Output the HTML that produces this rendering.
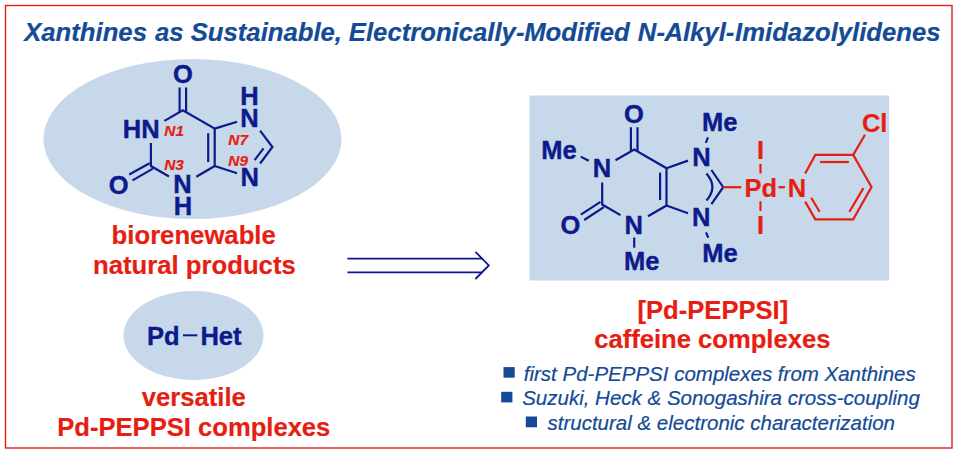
<!DOCTYPE html>
<html><head><meta charset="utf-8">
<style>
html,body{margin:0;padding:0;background:#fff;}
body{width:958px;height:456px;overflow:hidden;}
svg{display:block;font-family:"Liberation Sans",sans-serif;}
text{stroke-width:0.2px;}
.rd text,text.rd{stroke:#e61e12;}
.nv text,text.nv{stroke:#0d1a8c;stroke-width:0.4px;}
.nv{fill:#0d1a8c;font-weight:bold;font-size:25.5px;}
.rd{fill:#e61e12;}
.bl{stroke:#0d1a8c;stroke-width:2.2;fill:none;stroke-linecap:butt;stroke-linejoin:miter;}
.rl{stroke:#e61e12;stroke-width:2.2;fill:none;}
</style></head>
<body>
<svg width="958" height="456" viewBox="0 0 958 456">
<rect x="5.5" y="5.5" width="946.5" height="442.5" fill="none" stroke="#e21f1f" stroke-width="1.4"/>
<text y="41.3" font-size="25.7" font-weight="bold" font-style="italic" fill="#144a96" stroke="#144a96"><tspan x="24.2">Xanthines</tspan><tspan x="154.9">as</tspan><tspan x="190.7">Sustainable,</tspan><tspan x="348.85">Electronically-</tspan><tspan x="524.15">Modified</tspan><tspan x="637.85">N-</tspan><tspan x="664.4">Alkyl-</tspan><tspan x="735.05">Imidazolylidenes</tspan></text>

<!-- left ellipse + xanthine -->
<ellipse cx="192.5" cy="139" rx="149" ry="80" fill="#c7d8ea"/>
<g class="bl">
 <path d="M179.6,87.5 V112.2 M186.1,87.5 V112.2"/>
 <path d="M164.4,120.9 L182.8,110.3 L214.7,128.6 L214.7,166 L196.3,176.7"/>
 <path d="M169,176.5 L150.9,166 L150.9,142.9"/>
 <path d="M208.2,133.2 V162.1"/>
 <path d="M149.6,163.3 L129.2,174.5 M152.9,168.6 L132.5,180.4"/>
 <path d="M237.1,121.7 L214.7,128.6 M214.7,166 L237.1,173.3"/>
 <path d="M260.1,130.6 L272.4,147 L260.1,163.5"/>
 <path d="M263.5,148.4 L254.6,160.2"/>
</g>
<g class="nv" text-anchor="middle">
 <text x="182.8" y="83.3">O</text>
 <text x="141.2" y="138.1">HN</text>
 <text x="118.6" y="194.3">O</text>
 <text x="182.5" y="193.3">N</text>
 <text x="183" y="215.3">H</text>
 <text x="249.5" y="127.3">N</text>
 <text x="249.5" y="105.3">H</text>
 <text x="249.7" y="186.3">N</text>
</g>
<g class="rd" font-weight="bold" font-style="italic" font-size="15.4">
 <text x="164.3" y="135.8">N1</text>
 <text x="164.2" y="170.1">N3</text>
 <text x="228.3" y="144.8">N7</text>
 <text x="228.3" y="165.9">N9</text>
</g>
<g class="rd" font-weight="bold" font-size="25.69" text-anchor="middle">
 <text x="193.7" y="244.3">biorenewable</text>
 <text x="194.4" y="273.8">natural products</text>
</g>

<!-- Pd-Het ellipse -->
<ellipse cx="193.5" cy="335.5" rx="70" ry="44.5" fill="#c7d8ea"/>
<g class="nv">
 <text x="147" y="344.8">Pd</text>
 <text x="200.4" y="344.8">Het</text>
</g>
<line x1="183" y1="335.3" x2="197.4" y2="335.3" stroke="#0d1a8c" stroke-width="2"/>
<g class="rd" font-weight="bold" font-size="25.6" text-anchor="middle">
 <text x="193.8" y="405.7">versatile</text>
 <text x="193.8" y="436">Pd-PEPPSI complexes</text>
</g>

<!-- arrow -->
<g stroke="#10168c" stroke-width="1.8" fill="none">
 <line x1="347.4" y1="258.6" x2="482.5" y2="258.6"/>
 <line x1="347.4" y1="272.3" x2="482.5" y2="272.3"/>
 <polyline points="475.4,251.8 488.8,265.4 475.4,279"/>
</g>

<!-- right box -->
<rect x="529.5" y="95.5" width="359.7" height="185" fill="#c7d8ea"/>
<g class="bl">
 <path d="M630.9,127.2 V151.2 M637.5,127.2 V151.2"/>
 <path d="M615.5,160.3 L634.2,149.6 L666.5,168.2 L666.5,205.5 L648,216.2"/>
 <path d="M620.5,215.1 L602.2,204.5 L602.2,182.5"/>
 <path d="M660.1,172.6 V200"/>
 <path d="M600.5,201.8 L580.8,214.6 M603.9,207.2 L584.2,220"/>
 <path d="M688,160.6 L666.5,168.2 M666.5,205.5 L688,213.2"/>
 <path d="M711.4,170 L723.2,187.2 L711.4,204.1"/>
 <path d="M706.4,173.5 Q718.4,187 706.4,200.6"/>
 <path d="M580.8,156.6 L588.7,160.8"/>
 <path d="M634.2,237.5 V247.7"/>
 <path d="M705.8,142.8 L708,137.3 M706,232.4 L708.3,237.8"/>
</g>
<g class="nv" text-anchor="middle">
 <text x="634" y="122.8">O</text>
 <text x="570.3" y="234.2">O</text>
 <text x="601.9" y="177.3">N</text>
 <text x="633.7" y="233.8">N</text>
 <text x="701.4" y="166.1">N</text>
 <text x="701.2" y="225.6">N</text>
</g>
<g class="nv">
 <text x="541.3" y="158.6">Me</text>
 <text x="702" y="130.5">Me</text>
 <text x="702.3" y="261.6">Me</text>
 <text x="624" y="270">Me</text>
</g>
<g class="rl">
 <line x1="723" y1="187.2" x2="741.3" y2="187.2"/>
 <line x1="778.5" y1="187.2" x2="785" y2="187.2"/>
 <line x1="760.5" y1="163.8" x2="760.5" y2="173.5"/>
 <line x1="760.5" y1="201.3" x2="760.5" y2="211"/>
 <polyline points="805.2,173.6 815.3,154.9 853.2,154.9 871.5,187 853.2,219.3 815.3,219.3 805.2,201.6"/>
 <line x1="820.1" y1="162" x2="848.9" y2="162"/>
 <line x1="863.4" y1="188.1" x2="849.4" y2="211.8"/>
 <line x1="811.2" y1="197.8" x2="819.6" y2="211.8"/>
 <line x1="853.2" y1="154.9" x2="865" y2="134.8"/>
</g>
<g class="rd" font-weight="bold" font-size="25.5">
 <text x="744.6" y="196.7">Pd</text>
 <text x="787.7" y="196.7">N</text>
 <text x="757" y="159.1">I</text>
 <text x="757" y="233.8">I</text>
 <text x="861.9" y="132.4">Cl</text>
</g>
<g class="rd" font-weight="bold" font-size="25.6" text-anchor="middle">
 <text x="712.9" y="318.9">[Pd-PEPPSI]</text>
 <text x="712.3" y="347.9">caffeine complexes</text>
</g>

<!-- bullets -->
<g fill="#144a96">
 <rect x="503.5" y="367.1" width="11.2" height="10.6"/>
 <rect x="501.2" y="391.8" width="11.2" height="10.6"/>
 <rect x="525.8" y="416.5" width="11.2" height="10.8"/>
</g>
<g fill="#144a96" stroke="#144a96" stroke-width="0.25" font-style="italic" font-size="20.5">
 <text x="523.8" y="380.6">first Pd-PEPPSI complexes from Xanthines</text>
 <text x="522.2" y="404.9">Suzuki, Heck &amp; Sonogashira cross-coupling</text>
 <text x="547.5" y="429.7">structural &amp; electronic characterization</text>
</g>
</svg>
</body></html>
